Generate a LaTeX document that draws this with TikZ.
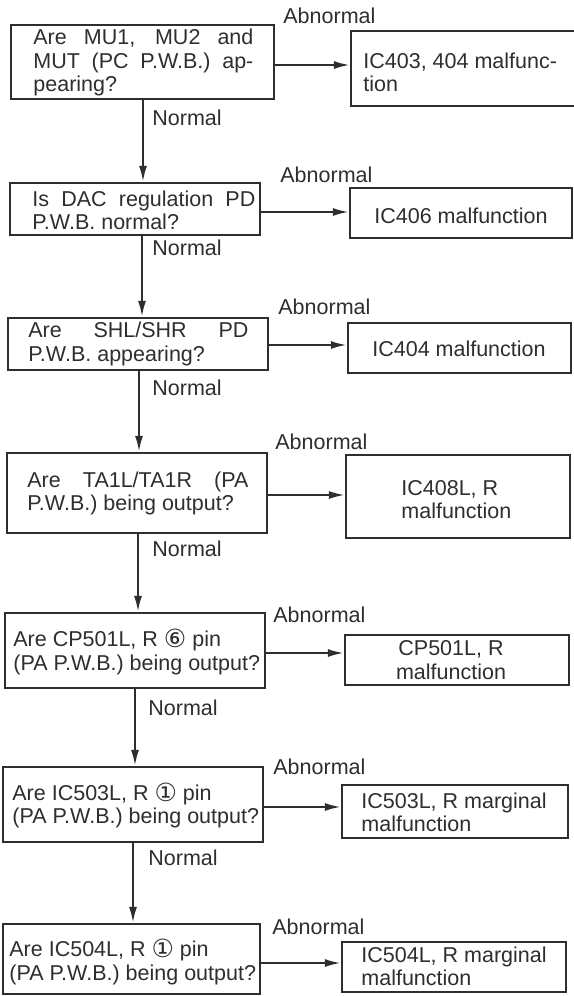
\documentclass[tikz,border=0pt]{standalone}
\usepackage{fontspec}
\setmainfont{Liberation Sans}
\newfontfamily\circfont{DejaVu Sans}
\usetikzlibrary{arrows.meta,fit}
\definecolor{ink}{RGB}{50,45,45}
\newcommand\jline[2]{\makebox[#1][s]{#2}}
\newcommand\circnum[1]{\raisebox{-0.5pt}{\circfont\fontsize{12.5}{12.5}\selectfont #1}}
\begin{document}
\begin{tikzpicture}[x=0.5pt,y=-0.5pt,
  box/.style={draw=ink, line width=1.1pt, inner sep=0pt, rectangle},
  txt/.style={inner sep=0pt, text=ink, anchor=west, align=left, font=\fontsize{10.75}{11.75}\selectfont},
  ctxt/.style={inner sep=0pt, text=ink, align=center, font=\fontsize{10.75}{11.75}\selectfont},
  lbl/.style={inner sep=0pt, text=ink, anchor=west, font=\fontsize{10.75}{11.75}\selectfont},
  arr/.style={draw=ink, line width=1.1pt, -{Latex[length=8pt,width=4pt]}}]
\useasboundingbox (0,0) rectangle (573,996);
\fill[white] (0,0) rectangle (573,996);

% left (question) boxes
\node[box, fit={(11,25) (274,99)}] (B1) {};
\node[box, fit={(10,183) (260,235)}] (B2) {};
\node[box, fit={(8,318) (268,370)}] (B3) {};
\node[box, fit={(7,453) (267,533)}] (B4) {};
\node[box, fit={(5,613) (265,688)}] (B5) {};
\node[box, fit={(3,767) (263,842)}] (B6) {};
\node[box, fit={(3,924) (260,994)}] (B7) {};

% right (result) boxes
\node[box, fit={(351,31) (582,106)}] (R1) {};
\node[box, fit={(350,188) (572,238)}] (R2) {};
\node[box, fit={(348,323) (571,373)}] (R3) {};
\node[box, fit={(346,455) (570,538)}] (R4) {};
\node[box, fit={(345,635) (569,685)}] (R5) {};
\node[box, fit={(342,785) (568,838)}] (R6) {};
\node[box, fit={(342,942) (566,992)}] (R7) {};

% texts in left boxes
\node[txt] (T1) at (33,62.5) {\jline{110pt}{Are MU1, MU2 and}\\\jline{110pt}{MUT (PC P.W.B.) ap-}\\pearing?};
\node[txt] (T2) at (32,210.5) {\jline{111.5pt}{Is DAC regulation PD}\\P.W.B. normal?};
\node[txt] (T3) at (28,344) {\jline{110pt}{Are SHL/SHR PD}\\P.W.B. appearing?};
\node[txt] (T4) at (27,493.5) {\jline{110.5pt}{Are TA1L/TA1R (PA}\\P.W.B.) being output?};
\node[txt] (T5) at (13,652) {Are CP501L, R \circnum{⑥} pin\\(PA P.W.B.) being output?};
\node[txt] (T6) at (12,805.5) {Are IC503L, R \circnum{①} pin\\(PA P.W.B.) being output?};
\node[txt] (T7) at (9,962) {Are IC504L, R \circnum{①} pin\\(PA P.W.B.) being output?};

% texts in right boxes
\node[txt] (RT1) at (363,72.5) {IC403, 404 malfunc-\\tion};
\node[ctxt] (RT2) at (461,216) {IC406 malfunction};
\node[ctxt] (RT3) at (459,349) {IC404 malfunction};
\node[txt] (RT4) at (401,499.5) {IC408L, R\\malfunction};
\node[ctxt] (RT5) at (451,660) {CP501L, R\\malfunction};
\node[txt] (RT6) at (361,812.5) {IC503L, R marginal\\malfunction};
\node[txt] (RT7) at (361,966.5) {IC504L, R marginal\\malfunction};

% Abnormal labels
\node[lbl] (A1) at (283,16) {Abnormal};
\node[lbl] (A2) at (280,175) {Abnormal};
\node[lbl] (A3) at (278,307) {Abnormal};
\node[lbl] (A4) at (275,442) {Abnormal};
\node[lbl] (A5) at (273,615) {Abnormal};
\node[lbl] (A6) at (273,767) {Abnormal};
\node[lbl] (A7) at (272,927) {Abnormal};

% Normal labels
\node[lbl] (N1) at (152,118) {Normal};
\node[lbl] (N2) at (152,248) {Normal};
\node[lbl] (N3) at (152,388) {Normal};
\node[lbl] (N4) at (152,549) {Normal};
\node[lbl] (N5) at (148,708) {Normal};
\node[lbl] (N6) at (148,858) {Normal};

% connector guide coordinates
\coordinate (v1) at (143,0);
\coordinate (v2) at (142,0);
\coordinate (v3) at (139,0);
\coordinate (v4) at (138,0);
\coordinate (v5) at (135,0);
\coordinate (v6) at (133,0);
\coordinate (h1) at (0,65);
\coordinate (h2) at (0,212);
\coordinate (h3) at (0,345);
\coordinate (h4) at (0,495);
\coordinate (h5) at (0,653);
\coordinate (h6) at (0,807);
\coordinate (h7) at (0,963);

% Normal (vertical) arrows
\draw[arr] (B1.south -| v1) -- (B2.north -| v1);
\draw[arr] (B2.south -| v2) -- (B3.north -| v2);
\draw[arr] (B3.south -| v3) -- (B4.north -| v3);
\draw[arr] (B4.south -| v4) -- (B5.north -| v4);
\draw[arr] (B5.south -| v5) -- (B6.north -| v5);
\draw[arr] (B6.south -| v6) -- (B7.north -| v6);

% Abnormal (horizontal) arrows
\draw[arr] (B1.east |- h1) -- (R1.west |- h1);
\draw[arr] (B2.east |- h2) -- (R2.west |- h2);
\draw[arr] (B3.east |- h3) -- (R3.west |- h3);
\draw[arr] (B4.east |- h4) -- (R4.west |- h4);
\draw[arr] (B5.east |- h5) -- (R5.west |- h5);
\draw[arr] (B6.east |- h6) -- (R6.west |- h6);
\draw[arr] (B7.east |- h7) -- (R7.west |- h7);
\end{tikzpicture}
\end{document}
